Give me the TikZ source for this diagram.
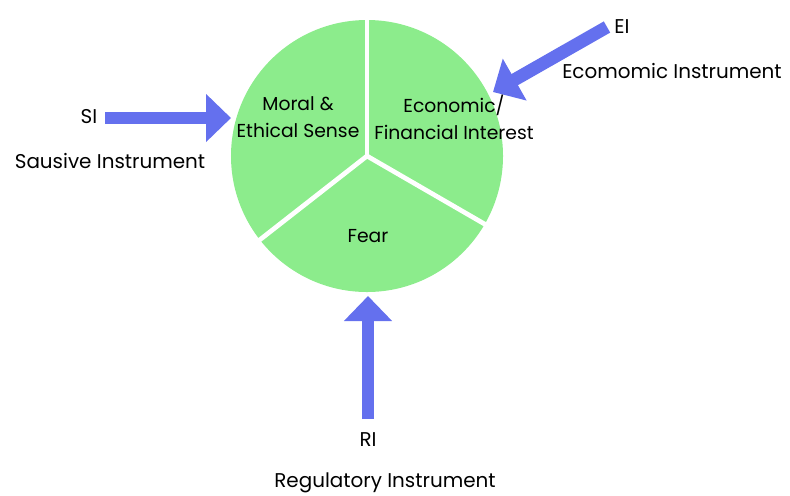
\documentclass[tikz,border=0pt]{standalone}
\usepackage{fontspec}
\setmainfont{Poppins}
\usepackage{tikz}
\usetikzlibrary{arrows.meta}
\definecolor{piegreen}{RGB}{140,236,140}
\definecolor{arrowblue}{RGB}{100,112,238}
\tikzset{
  instr/.style={arrowblue,line width=11pt,-{Triangle[width=1.4cm,length=0.75cm]}},
  lbl/.style={inner sep=1pt,font=\fontsize{17}{19}\selectfont},
  part/.style={align=center,inner sep=1pt,font=\fontsize{16}{23}\selectfont}
}
\begin{document}
\begin{tikzpicture}[x=0.03cm,y=-0.03cm]
        \useasboundingbox (0,0) rectangle (790,495);
        % pie
        \coordinate (c) at (367,156);
        \fill[piegreen] (c) circle (4.08cm);
        \draw[white,line width=4pt] (c) -- (367,16);
        \draw[white,line width=4pt] (c) -- (257,242);
        \draw[white,line width=4pt] (c) -- (488,226);
        \node[part] (moral) at (298,117) {Moral \&\\Ethical Sense};
        \node[part] (econ) at (454,117) {Economic/\\Financial Interest};
        \node[part] (fear) at (368,236) {Fear};
        % instruments
        \node[lbl] (si) at (89,117) {SI};
        \node[lbl] (silong) at (110,161) {Sausive Instrument};
        \node[lbl] (ei) at (622,27) {EI};
        \node[lbl] (eilong) at (672,71) {Ecomomic Instrument};
        \node[lbl] (ri) at (368,440) {RI};
        \node[lbl] (rilong) at (385,483) {Regulatory Instrument};
        \coordinate (sis) at (105,118);
        \coordinate (sit) at (231,118);
        \coordinate (eis) at (607,27);
        \coordinate (eit) at (493,92);
        \coordinate (ris) at (368,419);
        \coordinate (rit) at (368,296);
        \draw[instr] (sis) -- (sit);
        \draw[instr] (eis) -- (eit);
        \draw[instr] (ris) -- (rit);
\end{tikzpicture}
\end{document}
